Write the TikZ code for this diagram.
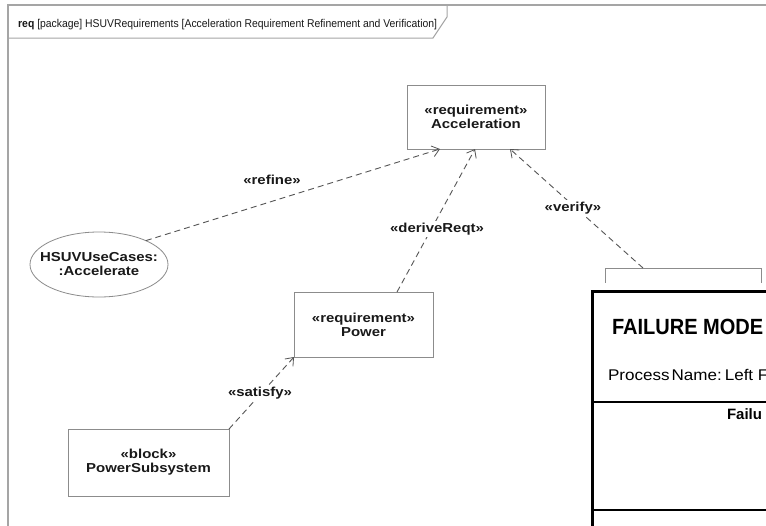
\documentclass[tikz,border=0pt]{standalone}
\usepackage{fontspec}
\setmainfont{Liberation Sans}
\newfontfamily\nodefont[FakeStretch=1.15]{Liberation Sans}
\newfontfamily\titlefont[FakeStretch=0.91]{Liberation Sans}
\newfontfamily\hdrfont[FakeStretch=0.92]{Liberation Sans}
\newfontfamily\procfont[FakeStretch=1.1]{Liberation Sans}
\usetikzlibrary{arrows.meta,shapes.geometric,calc}
\definecolor{framec}{RGB}{165,165,165}
\definecolor{boxc}{RGB}{140,140,140}
\definecolor{depc}{RGB}{85,85,85}
\definecolor{txtc}{RGB}{25,25,25}
\begin{document}
\begin{tikzpicture}[x=1pt,y=-1pt,
  box/.style={draw=boxc, line width=0.9pt, fill=white, align=center, inner sep=0pt, outer sep=0pt,
    text=txtc, font=\nodefont\bfseries\fontsize{13}{14}\selectfont},
  usecase/.style={ellipse, draw=boxc, line width=0.8pt, fill=white, align=center, inner sep=0pt, outer sep=0pt,
    text=txtc, font=\nodefont\bfseries\fontsize{13}{14}\selectfont},
  dep/.style={draw=depc, line width=0.9pt, dash pattern=on 6pt off 4pt,
    -{Straight Barb[length=7pt,width=11pt,line width=0.8pt]}},
  lbl/.style={fill=white, inner sep=1.5pt, text=txtc, font=\nodefont\bfseries\fontsize{13}{14}\selectfont},
  plain/.style={inner sep=0pt, outer sep=0pt, anchor=west, text=black}
]
\useasboundingbox (0,0) rectangle (766,525);
\fill[white] (0,0) rectangle (766,525);

% frame
\draw[framec, line width=1.2pt] (8,530) -- (8,5) -- (770,5);
\draw[framec, line width=1pt] (8,38) -- (433,38) -- (447,17) -- (447,5);
\node[inner sep=0pt, anchor=base west, text=txtc, font=\hdrfont\fontsize{11.3}{13}\selectfont] (hdr) at (18,27)
  {\textbf{req} [package] HSUVRequirements [Acceleration Requirement Refinement and Verification]};

% nodes
\node[box, minimum width=138pt, minimum height=64pt] (acc) at (476,117) {«requirement»\\Acceleration};
\node[box, minimum width=139pt, minimum height=65pt] (pow) at (363.5,324.5) {«requirement»\\Power};
\node[box, minimum width=161pt, minimum height=67pt] (ps) at (148.5,462.5) {«block»\\PowerSubsystem};
\node[usecase, minimum width=138pt, minimum height=65pt] (uc) at (99,264.5)
  {\makebox[0pt]{HSUVUseCases:}\\\makebox[0pt]{:Accelerate}};

% FMEA picture
\node[draw=boxc, line width=0.9pt, minimum width=156pt, minimum height=40pt, anchor=north west,
  inner sep=0pt, outer sep=0pt] (gbox) at (605,268) {};
\fill[white] (585,283) rectangle (800,540);
\node[draw=black, line width=3pt, minimum width=300pt, minimum height=300pt, anchor=north west,
  inner sep=0pt, outer sep=0pt] (fmea) at (592,291) {};
\draw[black, line width=2pt] ($(fmea.north west)+(0,111)$) -- ($(fmea.north east)+(0,111)$);
\draw[black, line width=2pt] ($(fmea.north west)+(0,219)$) -- ($(fmea.north east)+(0,219)$);
\node[plain, font=\titlefont\bfseries\fontsize{22}{24}\selectfont] (fmtitle) at (612,327) {FAILURE MODE};
\node[plain, font=\procfont\fontsize{15.5}{17}\selectfont] (procname) at (608,375) {Process\hspace{2pt}Name:\hspace{3pt}Left F};
\node[plain, font=\bfseries\fontsize{15}{17}\selectfont] (failu) at (727,414) {Failu};

% connectors
\draw[dep] (uc.27.5) -- ($(acc.south west)+(33,0)$);
\draw[dep] ($(pow.north west)+(103,0)$) -- ($(acc.south west)+(68,0)$);
\draw[dep] ($(gbox.north west)+(38,0)$) -- ($(acc.south west)+(103,0)$);
\draw[dep] (ps.north east) -- (pow.south west);

% labels
\node[lbl] (lrefine) at (272,180) {«refine»};
\node[lbl] (lderive) at (437,229) {«deriveReqt»};
\node[lbl] (lverify) at (573,208) {«verify»};
\node[lbl] (lsatisfy) at (260,393) {«satisfy»};
\end{tikzpicture}
\end{document}
